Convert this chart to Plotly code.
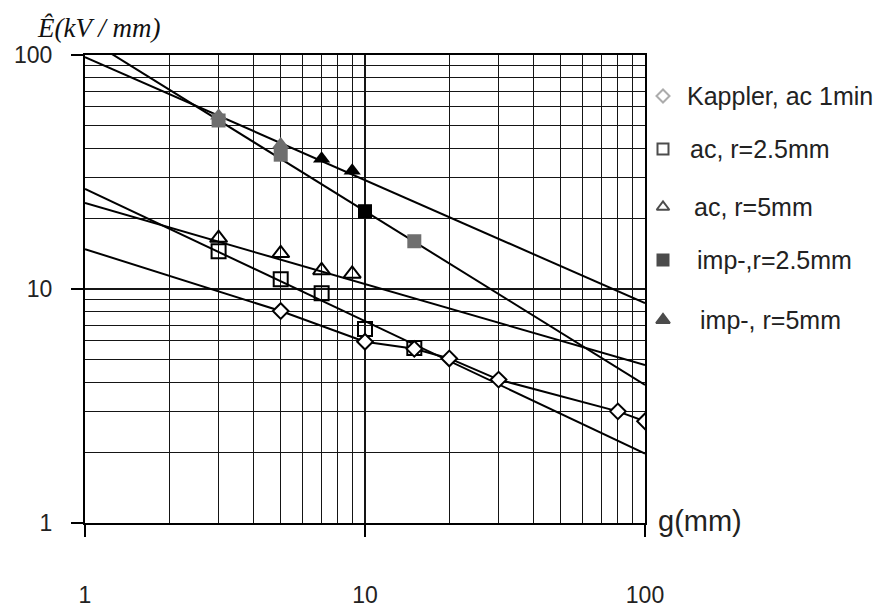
import plotly.graph_objects as go

# Breakdown field strength E (kV/mm) against gap length g (mm)
g_kappler = [5, 10, 15, 20, 30, 80, 100]
E_kappler = [8.05, 5.95, 5.55, 5.05, 4.1, 3.0, 2.72]
# Kappler curve extended back to g = 1 mm
g_kappler_start = [1]
E_kappler_start = [14.8]

g_ac25 = [3, 5, 7, 10, 15]
E_ac25 = [14.5, 11.0, 9.6, 6.75, 5.6]

g_ac5 = [3, 5, 7, 9]
E_ac5 = [16.5, 14.2, 12.0, 11.6]

g_imp25 = [3, 5, 10, 15]
E_imp25 = [52.5, 37.5, 21.5, 16.0]
imp25_shade = ["#6f6f6f", "#6f6f6f", "#000000", "#6f6f6f"]

g_imp5 = [3, 5, 7, 9]
E_imp5 = [55.0, 41.5, 36.0, 32.0]
imp5_shade = ["#6f6f6f", "#6f6f6f", "#000000", "#000000"]

# Power-law fit lines, given by their values at g = 1 mm and g = 100 mm
fit_g = [1, 100]
fit_ac25 = [26.8, 1.98]
fit_ac5 = [23.3, 4.73]
fit_imp25 = [119.0, 3.89]
fit_imp5 = [98.0, 8.7]

legend_labels = ["Kappler, ac 1min", "ac, r=2.5mm", "ac, r=5mm",
                 "imp-,r=2.5mm", "imp-, r=5mm"]

W, H = 881, 608
L, R, T, B = 85, 645, 55, 523  # plot box in pixels

SANS = "Liberation Sans, Arial, sans-serif"
minor_vals = [m * d for d in (1, 10) for m in range(2, 10)]

fig = go.Figure()

line_style = dict(color="black", width=2)
for ys in (fit_imp25, fit_imp5, fit_ac5, fit_ac25):
    fig.add_trace(go.Scatter(x=fit_g, y=ys, mode="lines", line=line_style,
                             hoverinfo="skip", showlegend=False))
fig.add_trace(go.Scatter(x=g_kappler_start + g_kappler,
                         y=E_kappler_start + E_kappler,
                         mode="lines", line=line_style, showlegend=False))

# measured points
fig.add_trace(go.Scatter(x=g_ac25, y=E_ac25, mode="markers", showlegend=False,
                         marker=dict(symbol="square-open", size=14,
                                     color="black", line=dict(width=2))))
fig.add_trace(go.Scatter(x=g_ac5, y=E_ac5, mode="markers", showlegend=False,
                         marker=dict(symbol="triangle-up-open", size=15,
                                     color="black", line=dict(width=2))))
fig.add_trace(go.Scatter(x=g_kappler, y=E_kappler, mode="markers", showlegend=False,
                         marker=dict(symbol="diamond", size=12, color="white",
                                     line=dict(color="black", width=2))))
fig.add_trace(go.Scatter(x=g_imp25, y=E_imp25, mode="markers", showlegend=False,
                         marker=dict(symbol="square", size=14, color=imp25_shade,
                                     line=dict(width=0))))
fig.add_trace(go.Scatter(x=g_imp5, y=E_imp5, mode="markers", showlegend=False,
                         marker=dict(symbol="triangle-up", size=15, color=imp5_shade,
                                     line=dict(width=0))))

# legend column drawn on a pixel-scaled overlay axis
leg_x = 663
leg_y = [96, 149, 207, 260, 320]
leg_text_x = [685, 688, 692, 695, 698]
fig.add_trace(go.Scatter(
    x=[leg_x] * 5, y=leg_y, mode="markers", xaxis="x2", yaxis="y2",
    showlegend=False, hoverinfo="skip",
    marker=dict(symbol=["diamond", "square-open", "triangle-up-open", "square", "triangle-up"],
                size=[10, 11, 11, 11, 12],
                color=["white", "black", "black", "black", "black"],
                line=dict(color=["#8a8a8a", "black", "black", "black", "black"], width=2))))

annotations = []
for tx, ty, lab in zip(leg_text_x, leg_y, legend_labels):
    annotations.append(dict(x=tx, y=ty, xref="x2", yref="y2", text=lab,
                            showarrow=False, xanchor="left", yanchor="middle",
                            font=dict(family=SANS, size=25, color="#222")))
annotations.append(dict(x=656, y=521, xref="x2", yref="y2", text="g(mm)",
                        showarrow=False, xanchor="left", yanchor="middle",
                        font=dict(family=SANS, size=29, color="#222")))
annotations.append(dict(x=98, y=28, xref="x2", yref="y2", text="<i>Ê(kV / mm)</i>",
                        showarrow=False, xanchor="center", yanchor="middle",
                        font=dict(family="Liberation Serif, Times New Roman, serif",
                                  size=27, color="#111")))

axis_common = dict(
    type="log", range=[0, 2],
    tickmode="array", tickvals=[1, 10, 100], ticktext=["1", "10", "100"],
    ticks="outside", ticklen=12, tickwidth=2, tickcolor="black",
    showline=True, linewidth=2, linecolor="black", mirror=True,
    showgrid=True, gridcolor="#151515", gridwidth=1.5, zeroline=False,
    minor=dict(tickmode="array", tickvals=minor_vals, showgrid=True,
               gridcolor="#151515", gridwidth=1.3, ticks=""),
    tickfont=dict(family=SANS, size=23, color="#222"),
    automargin=False,
)

fig.update_layout(
    width=W, height=H,
    margin=dict(l=0, r=0, t=0, b=0, autoexpand=False),
    paper_bgcolor="white", plot_bgcolor="rgba(0,0,0,0)",
    xaxis=dict(axis_common, domain=[L / W, R / W], anchor="y",
               ticklabelstandoff=38),
    yaxis=dict(axis_common, domain=[1 - B / H, 1 - T / H], anchor="x",
               ticklabelstandoff=14),
    xaxis2=dict(domain=[0, 1], range=[0, W], visible=False, anchor="y2"),
    yaxis2=dict(domain=[0, 1], range=[H, 0], visible=False, anchor="x2"),
    annotations=annotations,
    showlegend=False,
)

fig.write_html("out.html")
